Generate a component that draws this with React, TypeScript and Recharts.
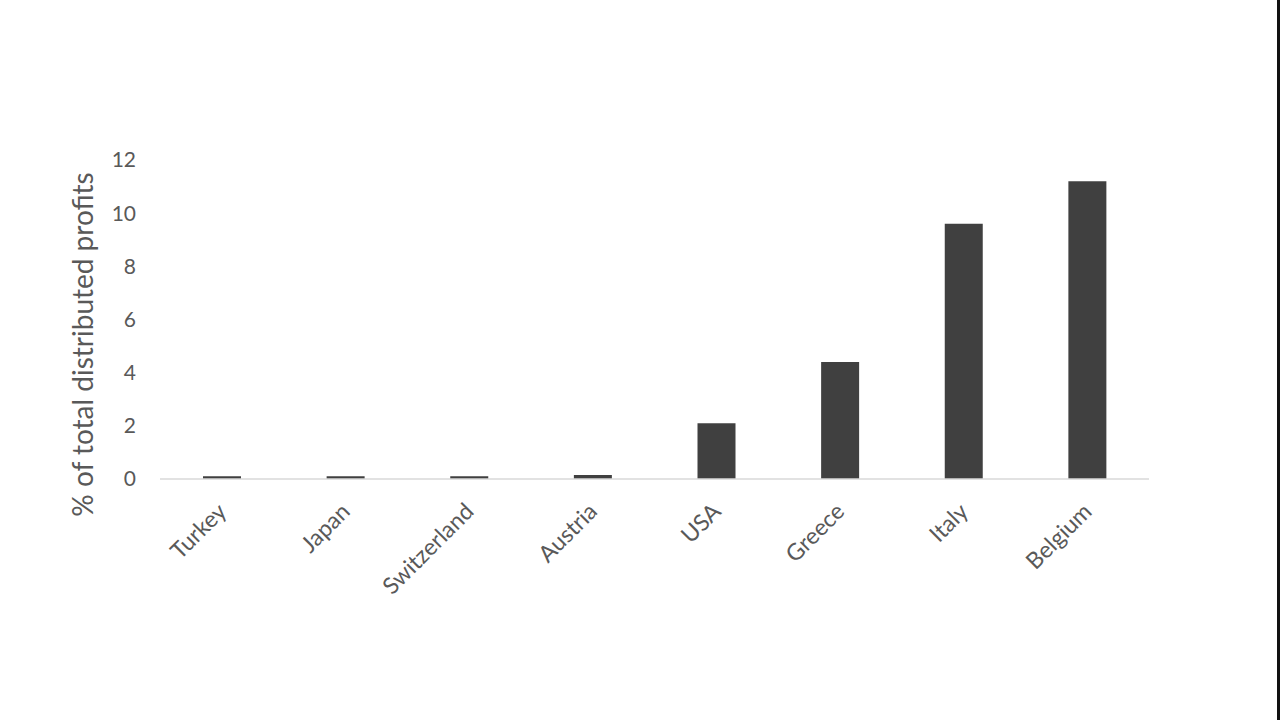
import { BarChart, Bar, XAxis, YAxis } from "recharts";

const countries = ["Turkey", "Japan", "Switzerland", "Austria", "USA", "Greece", "Italy", "Belgium"];
const shares = [0.1, 0.1, 0.1, 0.15, 2.1, 4.4, 9.6, 11.2];
const yTicks = [0, 2, 4, 6, 8, 10, 12];

const data = countries.map((country, i) => ({ country, share: shares[i] }));

const FONT = "Lato, 'Open Sans', sans-serif";

function AngledTick({ x, y, payload }: any) {
  return (
    <text
      x={x + 6}
      y={y + 26}
      transform={`rotate(-45, ${x + 6}, ${y + 26})`}
      textAnchor="end"
      fill="#595959"
      fontSize={23}
      fontFamily={FONT}
    >
      {payload.value}
    </text>
  );
}

function YLabel({ viewBox }: any) {
  const x = viewBox.x + 42;
  const y = viewBox.y + viewBox.height / 2 + 25;
  return (
    <text
      x={x}
      y={y}
      transform={`rotate(-90, ${x}, ${y})`}
      textAnchor="middle"
      dominantBaseline="central"
      fill="#595959"
      fontSize={28}
      fontFamily={FONT}
    >
      % of total distributed profits
    </text>
  );
}

export default function App() {
  return (
    <div
      style={{
        position: "absolute",
        left: 0,
        top: 0,
        width: 1280,
        height: 720,
        background: "#ffffff",
        boxSizing: "border-box",
        borderRight: "3px solid #111",
      }}
    >
      <BarChart
        width={1277}
        height={720}
        data={data}
        margin={{ top: 160, right: 128, bottom: 101, left: 40 }}
        barCategoryGap={0}
      >
        <XAxis
          dataKey="country"
          height={140}
          tickLine={false}
          axisLine={{ stroke: "#d9d9d9", strokeWidth: 1.5 }}
          tick={<AngledTick />}
          interval={0}
        />
        <YAxis
          width={120}
          domain={[0, 12]}
          ticks={yTicks}
          axisLine={false}
          tickLine={false}
          tickSize={6}
          tickMargin={18}
          tick={{ fill: "#595959", fontSize: 21, fontFamily: FONT }}
          label={<YLabel />}
        />
        <Bar dataKey="share" fill="#404040" barSize={38} isAnimationActive={false} />
      </BarChart>
    </div>
  );
}
